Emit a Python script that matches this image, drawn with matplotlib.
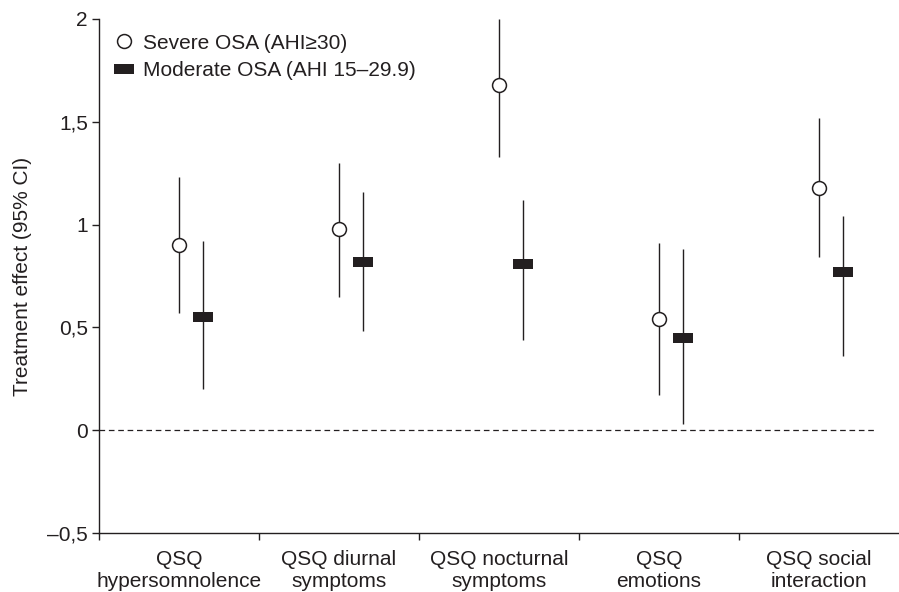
import matplotlib
matplotlib.use("Agg")
from matplotlib import pyplot as plt
from matplotlib.lines import Line2D
import numpy as np

plt.rcParams['font.family'] = ['Liberation Sans', 'DejaVu Sans']

categories = ["QSQ\nhypersomnolence", "QSQ diurnal\nsymptoms", "QSQ nocturnal\nsymptoms",
              "QSQ\nemotions", "QSQ social\ninteraction"]

# severe OSA (AHI>=30)
severe_est = [0.90, 0.98, 1.68, 0.54, 1.18]
severe_lo = [0.57, 0.65, 1.33, 0.17, 0.84]
severe_hi = [1.23, 1.30, 2.00, 0.91, 1.52]

# moderate OSA (AHI 15-29.9)
moderate_est = [0.55, 0.82, 0.81, 0.45, 0.77]
moderate_lo = [0.20, 0.48, 0.44, 0.03, 0.36]
moderate_hi = [0.92, 1.16, 1.12, 0.88, 1.04]

yticks = [-0.5, 0, 0.5, 1, 1.5, 2]
ytick_labels = ["\u20130,5", "0", "0,5", "1", "1,5", "2"]

dark = "#231f20"
fs = 15

fig = plt.figure(figsize=(8.99, 5.92), dpi=100)
ax = fig.add_axes([0.1101, 0.0997, 0.8899, 0.8683])

x = np.arange(len(categories))
xs_sev = x
xs_mod = x + 0.15

# CI lines
ax.vlines(xs_sev, severe_lo, severe_hi, color=dark, lw=1.0, zorder=2)
ax.vlines(xs_mod, moderate_lo, moderate_hi, color=dark, lw=1.0, zorder=2)

rect = [(-1, -0.5), (1, -0.5), (1, 0.5), (-1, 0.5), (-1, -0.5)]
ax.plot(xs_sev, severe_est, "o", ms=10, mfc="white", mec=dark, mew=1.1, zorder=3)
ax.plot(xs_mod, moderate_est, marker=rect, ls="none", ms=14.4, mfc=dark, mec=dark,
        mew=0, zorder=3)

ax.axhline(0, xmin=0, xmax=0.973, color=dark, lw=0.9, ls=(0, (4.5, 3)), zorder=1)

ax.set_xlim(-0.5, 4.5)
ax.set_ylim(-0.5, 2)

ax.spines['top'].set_visible(False)
ax.spines['right'].set_visible(False)
for s in ['left', 'bottom']:
    ax.spines[s].set_color(dark)
    ax.spines[s].set_linewidth(1.0)

ax.set_yticks(yticks)
ax.set_yticklabels(ytick_labels, fontsize=fs, color=dark)
ax.tick_params(axis='y', length=5, width=1.0, color=dark, pad=3)

ax.set_xticks(x)
ax.set_xticklabels(categories, fontsize=fs, color=dark, linespacing=1.2)
ax.set_xticks(np.arange(-0.5, 4.5, 1), minor=True)
ax.tick_params(axis='x', which='major', length=0, pad=12)
ax.tick_params(axis='x', which='minor', length=5, width=1.0, color=dark)

ax.set_ylabel("Treatment effect (95% CI)", fontsize=fs, color=dark, labelpad=11)

handles = [
    Line2D([], [], marker="o", ls="none", ms=10, mfc="white", mec=dark, mew=1.1),
    Line2D([], [], marker=rect, ls="none", ms=14.4, mfc=dark, mec=dark, mew=0),
]
ax.legend(handles, ["Severe OSA (AHI\u226530)", "Moderate OSA (AHI 15\u201329.9)"],
          loc="upper left", bbox_to_anchor=(0.0, 1.0), frameon=False,
          fontsize=fs, handlelength=1.0, handletextpad=0.4, labelspacing=0.4,
          borderaxespad=0.3, labelcolor=dark)

plt.savefig("out.png", dpi=100)
